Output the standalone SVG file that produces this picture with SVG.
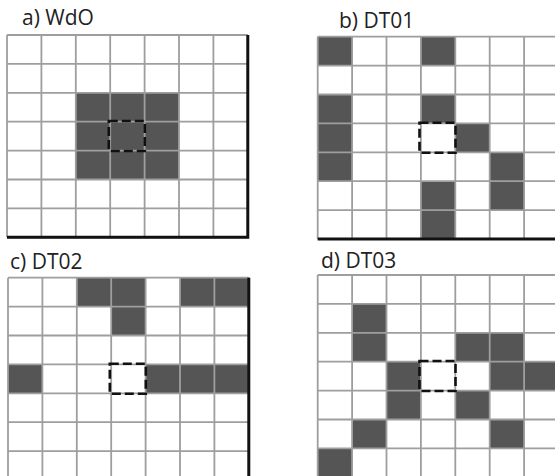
<svg xmlns="http://www.w3.org/2000/svg" xmlns:xlink="http://www.w3.org/1999/xlink" width="555" height="476" viewBox="0 0 555 476">
<style>
.lbl{font-family:"Open Sans","Noto Sans","DejaVu Sans",sans-serif;font-size:21px;fill:#222}
.on{fill:#555555}
.gl{fill:none;stroke:#9e9e9e;stroke-width:1.8}
.edge{fill:none;stroke:#111;stroke-width:3}
.cur{fill:none;stroke:#111;stroke-width:2.6;stroke-dasharray:9 4}
</style>
<defs>
<path id="gridlines" class="gl" d="M0 0H240.8M0 28.9H240.8M0 57.8H240.8M0 86.7H240.8M0 115.6H240.8M0 144.5H240.8M0 173.4H240.8M0 202.3H240.8M0 0V202.3M34.4 0V202.3M68.8 0V202.3M103.2 0V202.3M137.6 0V202.3M172 0V202.3M206.4 0V202.3M240.8 0V202.3"/>
<rect id="cell" class="on" width="34.4" height="28.9"/>
<rect id="center" class="cur" x="101.8" y="86" width="36" height="30"/>
</defs>
<rect width="555" height="476" fill="#fff"/>

<g id="panel-a">
<text class="lbl" x="22" y="25">a) WdO</text>
<g transform="translate(7,35)">
<rect class="on" x="68.8" y="57.8" width="103.2" height="86.7"/>
<use xlink:href="#gridlines"/>
<path class="edge" d="M240.8 0V202.3H0"/>
<use xlink:href="#center"/>
</g>
</g>

<g id="panel-b">
<text class="lbl" x="339" y="28">b) DT01</text>
<g transform="translate(317.7,36.7)">
<use xlink:href="#cell" x="0" y="0"/>
<use xlink:href="#cell" x="103.2" y="0"/>
<use xlink:href="#cell" x="0" y="57.8"/>
<use xlink:href="#cell" x="103.2" y="57.8"/>
<use xlink:href="#cell" x="0" y="86.7"/>
<use xlink:href="#cell" x="137.6" y="86.7"/>
<use xlink:href="#cell" x="0" y="115.6"/>
<use xlink:href="#cell" x="172" y="115.6"/>
<use xlink:href="#cell" x="103.2" y="144.5"/>
<use xlink:href="#cell" x="172" y="144.5"/>
<use xlink:href="#cell" x="103.2" y="173.4"/>
<use xlink:href="#gridlines"/>
<path class="edge" d="M0 202.3H240.8"/>
<use xlink:href="#center"/>
</g>
</g>

<g id="panel-c">
<text class="lbl" x="10" y="269">c) DT02</text>
<g transform="translate(8,277.7)">
<use xlink:href="#cell" x="68.8" y="0"/>
<use xlink:href="#cell" x="103.2" y="0"/>
<use xlink:href="#cell" x="172" y="0"/>
<use xlink:href="#cell" x="206.4" y="0"/>
<use xlink:href="#cell" x="103.2" y="28.9"/>
<use xlink:href="#cell" x="0" y="86.7"/>
<use xlink:href="#cell" x="137.6" y="86.7"/>
<use xlink:href="#cell" x="172" y="86.7"/>
<use xlink:href="#cell" x="206.4" y="86.7"/>
<use xlink:href="#gridlines"/>
<path class="edge" d="M240.8 0V202.3"/>
<use xlink:href="#center"/>
</g>
</g>

<g id="panel-d">
<text class="lbl" x="321" y="268">d) DT03</text>
<g transform="translate(317.7,275)">
<use xlink:href="#cell" x="34.4" y="28.9"/>
<use xlink:href="#cell" x="34.4" y="57.8"/>
<use xlink:href="#cell" x="137.6" y="57.8"/>
<use xlink:href="#cell" x="172" y="57.8"/>
<use xlink:href="#cell" x="68.8" y="86.7"/>
<use xlink:href="#cell" x="172" y="86.7"/>
<use xlink:href="#cell" x="206.4" y="86.7"/>
<use xlink:href="#cell" x="68.8" y="115.6"/>
<use xlink:href="#cell" x="137.6" y="115.6"/>
<use xlink:href="#cell" x="34.4" y="144.5"/>
<use xlink:href="#cell" x="172" y="144.5"/>
<use xlink:href="#cell" x="0" y="173.4"/>
<use xlink:href="#gridlines"/>
<use xlink:href="#center"/>
</g>
</g>
</svg>
